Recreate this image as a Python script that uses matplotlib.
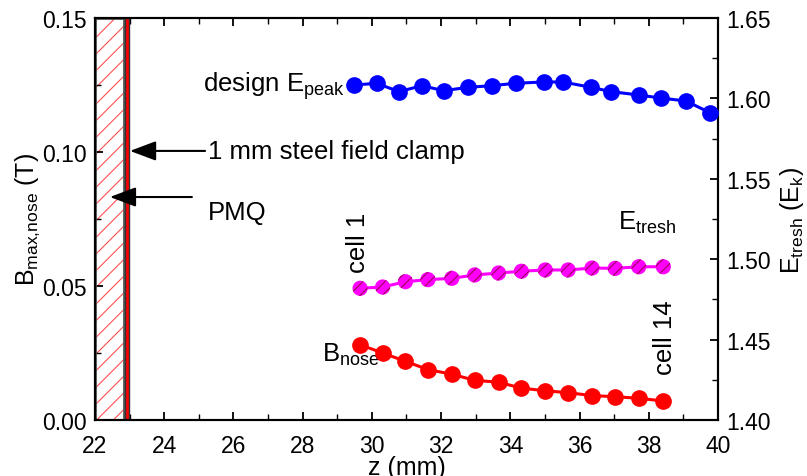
import matplotlib
matplotlib.use("Agg")
import matplotlib.pyplot as plt
from matplotlib.patches import Rectangle
from matplotlib.ticker import MultipleLocator, FormatStrFormatter

plt.rcParams['font.family'] = ['Liberation Sans', 'DejaVu Sans']
plt.rcParams['mathtext.default'] = 'regular'
plt.rcParams['hatch.linewidth'] = 0.8

# design peak surface field along the structure (E_k units)
z_peak = [29.49, 30.14, 30.78, 31.45, 32.07, 32.79, 33.47, 34.15, 34.97, 35.52,
          36.33, 36.91, 37.72, 38.35, 39.07, 39.77, 40.45]
e_peak = [1.6083, 1.6094, 1.6042, 1.6079, 1.6048, 1.6069, 1.6079, 1.6094, 1.6102,
          1.6102, 1.6069, 1.6042, 1.6021, 1.6002, 1.5984, 1.5911, 1.5856]

# cell centres, cell 1 .. cell 14
z_cell = [29.66, 30.31, 30.97, 31.62, 32.31, 32.97, 33.66, 34.32, 35.01, 35.67,
          36.36, 37.03, 37.71, 38.42]
e_thresh = [1.4819, 1.4827, 1.4860, 1.4873, 1.4881, 1.4902, 1.4914, 1.4925,
            1.4933, 1.4933, 1.4945, 1.4943, 1.4953, 1.4953]
b_nose = [0.0281, 0.0250, 0.0219, 0.0188, 0.0171, 0.0148, 0.0141, 0.0119,
          0.0109, 0.0102, 0.0091, 0.0087, 0.0081, 0.0071]

# magnet geometry (z extents, mm)
pmq_z = (22.0, 22.84)
clamp_z = (22.87, 22.98)

FS_TICK = 16.5
FS_TEXT = 18.5
FS_LABEL = 18

fig = plt.figure(figsize=(8.07, 4.77), dpi=100)
ax = fig.add_axes([0.1177, 0.1174, 0.772, 0.8428])
ax2 = ax.twinx()

ax.set_xlim(22, 40)
ax.set_ylim(0, 0.15)
ax2.set_ylim(1.40, 1.65)

# PMQ block (hatched) and steel clamp
ax.add_patch(Rectangle((pmq_z[0], 0), pmq_z[1] - pmq_z[0], 0.15,
                       facecolor='white', edgecolor='#ff5050', hatch='//',
                       linewidth=0, zorder=1))
ax.add_patch(Rectangle((pmq_z[0], 0), pmq_z[1] - pmq_z[0], 0.15,
                       facecolor='none', edgecolor='#555555', linewidth=2.0,
                       zorder=2))
ax.add_patch(Rectangle((clamp_z[0], 0), clamp_z[1] - clamp_z[0], 0.15,
                       facecolor='#ff0000', edgecolor='#333333', linewidth=1.0,
                       zorder=3))

# B_nose (left axis)
ax.plot(z_cell, b_nose, color='#ff0000', lw=2.2, marker='o', ms=11, zorder=4)

# E_peak and E_thresh (right axis)
ax2.plot(z_peak, e_peak, color='#0000ff', lw=2.2, marker='o', ms=11, zorder=4)
ax2.plot(z_cell, e_thresh, color='#ff00ff', lw=2.2, zorder=4)
ax2.scatter(z_cell, e_thresh, s=120, facecolor='#ff00ff', edgecolor='#a0005a',
            hatch='///', linewidth=0, zorder=5)

# annotations
arrow = dict(arrowstyle='-|>,head_length=1.6,head_width=0.6', mutation_scale=10,
             color='black', lw=1.5, shrinkA=0, shrinkB=0)
ax.annotate('', xy=(23.01, 0.1004), xytext=(25.18, 0.1004), arrowprops=arrow,
            zorder=6)
ax.annotate('', xy=(22.43, 0.0832), xytext=(24.80, 0.0832), arrowprops=arrow,
            zorder=6)
ax.text(25.27, 0.1004, '1 mm steel field clamp', fontsize=FS_TEXT, ha='left',
        va='center')
ax.text(25.27, 0.0776, 'PMQ', fontsize=FS_TEXT, ha='left', va='center')

ax2.text(29.22, 1.6046, 'design E$_{peak}$', fontsize=FS_TEXT, ha='right',
         va='baseline')
ax2.text(37.11, 1.5188, 'E$_{tresh}$', fontsize=FS_TEXT, ha='left',
         va='baseline')
ax.text(28.56, 0.0221, 'B$_{nose}$', fontsize=FS_TEXT, ha='left',
        va='baseline')
ax2.text(29.60, 1.4920, 'cell 1', fontsize=FS_TEXT, rotation=90, ha='center',
         va='bottom')
ax.text(38.47, 0.0172, 'cell 14', fontsize=FS_TEXT, rotation=90, ha='center',
        va='bottom')

# axes styling
for a in (ax, ax2):
    for s in a.spines.values():
        s.set_linewidth(1.5)

ax.xaxis.set_major_locator(MultipleLocator(2))
ax.xaxis.set_minor_locator(MultipleLocator(1))
ax.yaxis.set_major_locator(MultipleLocator(0.05))
ax.yaxis.set_minor_locator(MultipleLocator(0.025))
ax.yaxis.set_major_formatter(FormatStrFormatter('%.2f'))
ax2.yaxis.set_major_locator(MultipleLocator(0.05))
ax2.yaxis.set_minor_locator(MultipleLocator(0.025))
ax2.yaxis.set_major_formatter(FormatStrFormatter('%.2f'))

ax.tick_params(axis='x', which='both', direction='in', top=True, bottom=True,
               labelsize=FS_TICK, pad=10)
ax.tick_params(axis='y', which='both', direction='in', left=True, right=False,
               labelsize=FS_TICK, pad=6)
ax.tick_params(which='major', length=6, width=1.3)
ax.tick_params(which='minor', length=4, width=1.0)
ax2.tick_params(axis='y', which='both', direction='in', right=True,
                labelsize=FS_TICK, pad=6)
ax2.tick_params(which='major', length=6, width=1.3)
ax2.tick_params(which='minor', length=4, width=1.0)

ax.set_xlabel('z (mm)', fontsize=FS_LABEL)
ax.xaxis.set_label_coords(0.5, -0.088)
ax.set_ylabel('B$_{max{,}nose}$ (T)', fontsize=FS_LABEL)
ax.yaxis.set_label_coords(-0.085, 0.5)
ax2.set_ylabel('E$_{tresh}$ (E$_k$)', fontsize=FS_LABEL)
ax2.yaxis.set_label_coords(1.096, 0.5)

fig.savefig('out.png', dpi=100)
